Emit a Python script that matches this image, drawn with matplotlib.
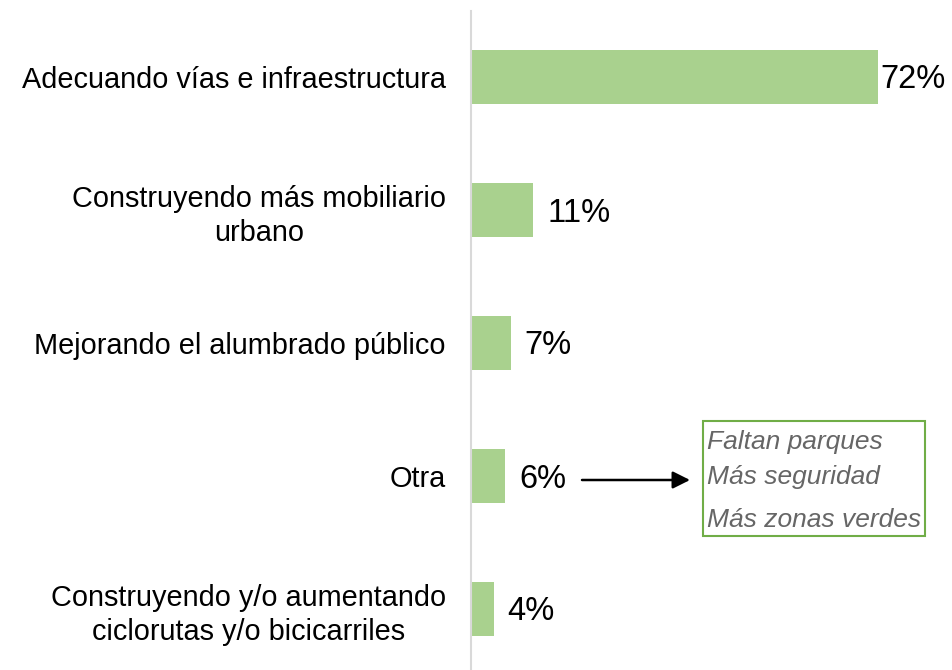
import matplotlib
matplotlib.use("Agg")
import matplotlib.pyplot as plt
from matplotlib.patches import Rectangle

categories = [
    "Adecuando vías e infraestructura",
    "Construyendo más mobiliario\nurbano",
    "Mejorando el alumbrado público",
    "Otra",
    "Construyendo y/o aumentando\nciclorutas y/o bicicarriles",
]
values = [72, 11, 7, 6, 4]
value_labels = ["72%", "11%", "7%", "6%", "4%"]
otra_items = ["Faltan parques", "Más seguridad", "Más zonas verdes"]

plt.rcParams['font.family'] = ['Liberation Sans', 'DejaVu Sans']

W, H = 952, 670
fig = plt.figure(figsize=(W / 100, H / 100), dpi=100)
px = 5.653  # pixels per percent
ax = fig.add_axes([471 / W, -5.5 / H, 80 * px / W, 665 / H])
ypos = list(range(len(categories)))
ax.barh(ypos, values, height=0.4, color="#A9D18E")
ax.set_ylim(len(categories) - 0.5, -0.5)
ax.set_xlim(0, 80)
for s in ["top", "right", "bottom"]:
    ax.spines[s].set_visible(False)
ax.spines["left"].set_color("#D9D9D9")
ax.spines["left"].set_linewidth(1.5)
ax.set_xticks([])
ax.set_yticks(ypos)
ax.set_yticklabels(categories, fontsize=20.8, multialignment="center",
                   linespacing=1.27)
ax.tick_params(axis="y", length=0, pad=18)

for i, (v, lab) in enumerate(zip(values, value_labels)):
    off = 2 if i == 0 else 14
    ax.annotate(lab, (v, i), xytext=(off, -3), textcoords="offset pixels",
                ha="left", va="center", fontsize=23.5, annotation_clip=False)

# arrow from "Otra" label to comment box
ax.annotate("", xy=(690, H - 480), xycoords="figure pixels",
            xytext=(582, H - 480), textcoords="figure pixels",
            arrowprops=dict(arrowstyle="-|>", color="black", lw=1.8,
                            mutation_scale=26, shrinkA=0, shrinkB=0))

box = Rectangle((703 / W, (H - 536) / H), (925 - 703) / W, (536 - 421) / H,
                transform=fig.transFigure, fill=False, edgecolor="#70AD47",
                linewidth=1.5)
fig.patches.append(box)
text_y = [442, 477, 520]
for t, yy in zip(otra_items, text_y):
    fig.text(707 / W, (H - yy) / H, t, ha="left", va="center", fontsize=19,
             style="italic", color="#666666")

fig.savefig("out.png", dpi=100)
